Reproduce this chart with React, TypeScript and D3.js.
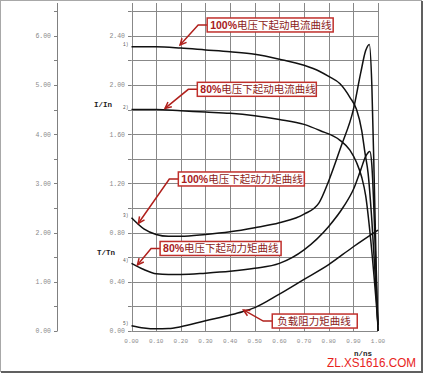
import React from "react";
import * as d3 from "d3";

// [n/ns, value] (inner axis units)
const current100: [number, number][] = [
  [0, 2.31], [0.1, 2.31], [0.2, 2.3], [0.3, 2.285], [0.4, 2.27], [0.5, 2.25],
  [0.6, 2.21], [0.7, 2.16], [0.764, 2.11], [0.8, 2.07], [0.846, 2.01],
  [0.886, 1.9], [0.913, 1.8], [0.934, 1.63], [0.947, 1.45], [0.96, 1.28],
  [0.975, 0.9], [0.99, 0.4], [1.0, 0.05],
];
const current80: [number, number][] = [
  [0, 1.8], [0.1, 1.8], [0.2, 1.79], [0.3, 1.78], [0.4, 1.77], [0.5, 1.75],
  [0.6, 1.72], [0.7, 1.68], [0.764, 1.63], [0.846, 1.55], [0.886, 1.47],
  [0.913, 1.37], [0.934, 1.25], [0.95, 1.1], [0.97, 0.75], [0.99, 0.3],
  [1.0, 0.05],
];
const torque100: [number, number][] = [
  [0, 0.92], [0.05, 0.83], [0.1, 0.785], [0.15, 0.77], [0.2, 0.77],
  [0.3, 0.785], [0.4, 0.807], [0.5, 0.84], [0.6, 0.88], [0.7, 0.95],
  [0.76, 1.04], [0.8, 1.22], [0.85, 1.5], [0.9, 1.8], [0.93, 2.1],
  [0.95, 2.28], [0.965, 2.33], [0.975, 2.0], [0.985, 1.2], [0.993, 0.5],
  [1.0, 0],
];
const torque80: [number, number][] = [
  [0, 0.55], [0.05, 0.5], [0.1, 0.465], [0.15, 0.46], [0.2, 0.46],
  [0.3, 0.47], [0.4, 0.485], [0.5, 0.51], [0.6, 0.55], [0.7, 0.66],
  [0.8, 0.85], [0.86, 1.01], [0.9, 1.15], [0.93, 1.31], [0.95, 1.42],
  [0.967, 1.46], [0.975, 1.35], [0.985, 0.9], [0.993, 0.4], [1.0, 0],
];
const loadTorque: [number, number][] = [
  [0, 0.043], [0.05, 0.025], [0.1, 0.018], [0.15, 0.02], [0.2, 0.035],
  [0.3, 0.084], [0.4, 0.13], [0.45, 0.157], [0.5, 0.19], [0.6, 0.3],
  [0.7, 0.42], [0.8, 0.54], [0.9, 0.685], [1.0, 0.82],
];

const curves = [current100, current80, torque100, torque80, loadTorque];
const curveTags = ["1)", "2)", "3)", "4)", "5)"];

const xTicks = [0, 0.1, 0.2, 0.3, 0.4, 0.5, 0.6, 0.7, 0.8, 0.9, 1.0];
const innerLabels = [0, 0.4, 0.8, 1.2, 1.6, 2.0, 2.4];
const outerLabels = [0, 1, 2, 3, 4, 5, 6];

// annotation boxes: tip on curve and box anchor (left middle), data units
const notes = [
  { bold: "100%", text: "电压下起动电流曲线", tip: [0.197, 2.325], box: [0.307, 2.488], w: 126 },
  { bold: "80%", text: "电压下起动电流曲线", tip: [0.136, 1.81], box: [0.267, 1.965], w: 119 },
  { bold: "100%", text: "电压下起动力矩曲线", tip: [0.028, 0.876], box: [0.19, 1.236], w: 126 },
  { bold: "80%", text: "电压下起动力矩曲线", tip: [0.024, 0.537], box: [0.116, 0.671], w: 121 },
  { bold: "", text: "负载阻力矩曲线", tip: [0.454, 0.171], box: [0.571, 0.081], w: 85 },
];

const W = 423;
const H = 374;

const App: React.FC = () => {
  const x = d3.scaleLinear().domain([0, 1]).range([131.5, 378]);
  const y = d3.scaleLinear().domain([0, 2.6]).range([331, 11.2]);
  const yOuter = d3.scaleLinear().domain([0, 6.5]).range([331, 11.2]);
  const px = (v: number) => Math.round(v) + 0.5;

  const line = d3
    .line<[number, number]>()
    .x((d) => x(d[0]))
    .y((d) => y(d[1]))
    .curve(d3.curveMonotoneX);

  const gridY = d3.range(0, 2.61, 0.2);
  const outerMinor = d3.range(0, 6.51, 0.5);
  const mono = "'Liberation Mono', 'DejaVu Sans Mono', monospace";
  const red = "#b0201c";

  const gridPath =
    xTicks.map((t) => `M${px(x(t))},3V331`).join("") +
    gridY.map((t) => `M${x(0)},${px(y(t))}H${x(1)}`).join("");
  const tickPath =
    `M57.5,3V331` +
    outerMinor.map((t) => `M54,${px(yOuter(t))}H57.5`).join("") +
    gridY.map((t) => `M128,${px(y(t))}H${x(0)}`).join("");

  return (
    <svg
      width={W}
      height={H}
      style={{ position: "absolute", left: 0, top: 0, background: "#fff" }}
    >
      <rect x={0.5} y={0.5} width={421} height={371} fill="#fff" stroke="#a8a8a8" />
      <path d="M1,372H422M422,1V373" fill="none" stroke="#606060" strokeWidth={2} />

      {/* grid */}
      <path d={gridPath} fill="none" stroke="#888" strokeWidth={1} />
      <path d={tickPath} fill="none" stroke="#808080" strokeWidth={1} />

      {outerLabels.map((t) => (
        <text key={"ol" + t} x={51} y={yOuter(t) + 2.3} textAnchor="end" fontFamily={mono} fontSize={6.5} fill="#8a8a8a">
          {t.toFixed(2)}
        </text>
      ))}
      {innerLabels.map((t) => (
        <text key={"il" + t} x={125} y={y(t) + 2.3} textAnchor="end" fontFamily={mono} fontSize={6.5} fill="#8a8a8a">
          {t.toFixed(2)}
        </text>
      ))}
      {xTicks.map((t) => (
        <text key={"xl" + t} x={x(t)} y={343} textAnchor="middle" fontFamily={mono} fontSize={6} fill="#8a8a8a">
          {t.toFixed(2)}
        </text>
      ))}

      <text x={94} y={107} fontFamily={mono} fontWeight="bold" fontSize={7.5} fill="#222">I/In</text>
      <text x={97} y={255} fontFamily={mono} fontWeight="bold" fontSize={7.5} fill="#222">T/Tn</text>
      <text x={354} y={356} fontFamily={mono} fontWeight="bold" fontSize={7.5} fill="#222">n/ns</text>

      {/* curves */}
      {curves.map((c, i) => (
        <path key={"c" + i} d={line(c) ?? ""} fill="none" stroke="#111" strokeWidth={1.5} />
      ))}
      {curves.map((c, i) => (
        <text key={"t" + i} x={128.5} y={y(c[0][1]) - 1} textAnchor="end" fontFamily={mono} fontSize={4.5} fill="#555">
          {curveTags[i]}
        </text>
      ))}

      {/* annotations */}
      {notes.map((n, i) => {
        const tx = x(n.tip[0]);
        const ty = y(n.tip[1]);
        const bx = x(n.box[0]);
        const by = y(n.box[1]);
        const ex = bx - 9;
        const ang = Math.atan2(ty - by, tx - ex);
        const hl = 7;
        const h1 = [tx - hl * Math.cos(ang - 0.45), ty - hl * Math.sin(ang - 0.45)];
        const h2 = [tx - hl * Math.cos(ang + 0.45), ty - hl * Math.sin(ang + 0.45)];
        return (
          <g key={"n" + i}>
            <polyline points={`${bx},${by} ${ex},${by} ${tx},${ty}`} fill="none" stroke={red} strokeWidth={1.5} />
            <polyline points={`${h1[0]},${h1[1]} ${tx},${ty} ${h2[0]},${h2[1]}`} fill="none" stroke={red} strokeWidth={1.5} />
            <rect x={bx} y={by - 7} width={n.w} height={14} fill="#fff" stroke="#c0302c" strokeWidth={1.5} />
            <text x={bx + (n.bold ? 3 : 5)} y={by + 4} fontSize={10.5} fill="#8c1c1a" fontFamily="'Liberation Sans', 'Noto Sans CJK SC', sans-serif">
              {n.bold && <tspan fontWeight="bold" fill="#a8201c">{n.bold}</tspan>}
              <tspan fontFamily="'Noto Sans CJK SC', sans-serif">{n.text}</tspan>
            </text>
          </g>
        );
      })}

      <text x={327} y={367} fontFamily="'Liberation Sans', Arial, sans-serif" fontSize={13} fill="#e8231c" textLength={89} lengthAdjust="spacingAndGlyphs">
        ZL.XS1616.COM
      </text>
    </svg>
  );
};

export default App;
